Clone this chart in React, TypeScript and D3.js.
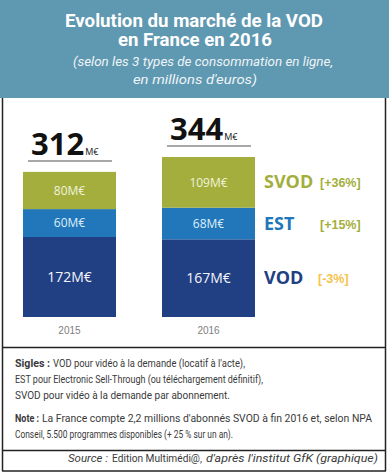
import React from "react";
import * as d3 from "d3";

const years = ["2015", "2016"];
const vod = [172, 167];
const est = [60, 68];
const svod = [80, 109];
const totals = [312, 344];
const seriesNames = ["VOD", "EST", "SVOD"];
const seriesChanges = ["[-3%]", "[+15%]", "[+36%]"];

const W = 389;
const H = 475;

const COLORS: Record<string, string> = { VOD: "#213f83", EST: "#2177b9", SVOD: "#a3ae3c" };
const LABEL_COLORS: Record<string, string> = { VOD: "#f4f6fb", EST: "#dfeefa", SVOD: "#f1f3dc" };
const CHANGE_COLORS: Record<string, string> = { VOD: "#f5c24c", EST: "#a3ae3c", SVOD: "#a3ae3c" };
const LABEL_SIZE: Record<string, number> = { VOD: 14, EST: 12, SVOD: 12 };

export default function App() {
  const x = d3.scaleBand<string>().domain(years).range([23, 255]).paddingInner(0.331).paddingOuter(0);
  const y = d3.scaleLinear().domain([0, 344]).range([317, 157]);

  const rows = years.map((yr, i) => ({ year: yr, VOD: vod[i], EST: est[i], SVOD: svod[i] }));
  const stacked = d3.stack<any>().keys(seriesNames)(rows);

  const sans = "'Open Sans', 'DejaVu Sans', sans-serif";
  const cond = "Roboto, 'Liberation Sans', sans-serif";
  const noteColor = "#3a3a3a";

  const lastIdx = years.length - 1;

  return (
    <svg width={W} height={H} style={{ position: "absolute", left: 0, top: 0, background: "#fff" }}>
      {/* header */}
      <rect x={0} y={0} width={W} height={98} fill="#5f98b1" />
      <text x={194} y={27} textAnchor="middle" fill="#fff" fontFamily={cond} fontWeight={700} fontSize={18}
        textLength={258} lengthAdjust="spacingAndGlyphs">Evolution du marché de la VOD</text>
      <text x={195} y={46} textAnchor="middle" fill="#fff" fontFamily={cond} fontWeight={700} fontSize={18}
        textLength={154} lengthAdjust="spacingAndGlyphs">en France en 2016</text>
      <text x={203} y={66} textAnchor="middle" fill="#eef4f7" fontFamily={cond} fontStyle="italic" fontSize={13}
        textLength={260} lengthAdjust="spacingAndGlyphs">(selon les 3 types de consommation en ligne,</text>
      <text x={195} y={84} textAnchor="middle" fill="#eef4f7" fontFamily={cond} fontStyle="italic" fontSize={13}
        textLength={124} lengthAdjust="spacingAndGlyphs">en millions d'euros)</text>

      {/* frame */}
      <g stroke="#222" strokeWidth={1.5} fill="none">
        <line x1={2.5} y1={98} x2={2.5} y2={471} />
        <line x1={385.5} y1={98} x2={385.5} y2={471} />
        <line x1={2.5} y1={347.5} x2={385.5} y2={347.5} />
        <line x1={2.5} y1={450.5} x2={385.5} y2={450.5} />
        <line x1={2} y1={471} x2={386} y2={471} />
      </g>

      {/* bars */}
      {stacked.map((s) => (
        <g key={s.key}>
          {s.map((d, i) => {
            const bx = x(years[i])!;
            const bw = x.bandwidth();
            const y0 = y(d[1]);
            const y1 = y(d[0]);
            const val = d[1] - d[0];
            return (
              <g key={i}>
                <rect x={bx} y={y0} width={bw} height={y1 - y0} fill={COLORS[s.key]} />
                <text x={bx + bw / 2} y={(y0 + y1) / 2} dy="0.36em" textAnchor="middle"
                  fill={LABEL_COLORS[s.key]} fontFamily={sans} fontSize={LABEL_SIZE[s.key]}>
                  {`${val}M€`}
                </text>
              </g>
            );
          })}
        </g>
      ))}

      {/* totals */}
      {years.map((yr, i) => {
        const cx = x(yr)! + x.bandwidth() / 2 + 0.5;
        const top = y(totals[i]);
        return (
          <g key={yr}>
            <line x1={cx - 42} x2={cx + 42} y1={top - 11} y2={top - 11} stroke="#a8a8a8" strokeWidth={2} />
            <text x={cx - 39} y={top - 17} fontFamily={sans} fontWeight={700} fontSize={31} fill="#111">
              {totals[i]}
              <tspan fontSize={9} fontWeight={400} dx={1}>M€</tspan>
            </text>
            <text x={cx - 0.5} y={334} textAnchor="middle" fontFamily="'Liberation Sans', Arial, sans-serif"
              fontSize={10} fill="#808080">{yr}</text>
          </g>
        );
      })}

      {/* legend */}
      {stacked.map((s, k) => {
        const d = s[lastIdx];
        const cy = (y(d[0]) + y(d[1])) / 2;
        return (
          <g key={s.key}>
            <text x={264} y={cy + 6} fontFamily={sans} fontWeight={700} fontSize={18} fill={COLORS[s.key]}>
              {s.key}
            </text>
            <text x={s.key === "VOD" ? 318 : 320} y={cy + 5} fontFamily="'Liberation Sans', Arial, sans-serif"
              fontWeight={700} fontSize={12.5} fill={CHANGE_COLORS[s.key]}>
              {seriesChanges[k]}
            </text>
          </g>
        );
      })}

      {/* notes */}
      <g fontFamily={cond} fontSize={10.8} fill={noteColor}>
        <text x={15} y={367} fontWeight={700} textLength={35} lengthAdjust="spacingAndGlyphs">Sigles :</text>
        <text x={53} y={367} textLength={192} lengthAdjust="spacingAndGlyphs">
          VOD pour vidéo à la demande (locatif à l'acte),
        </text>
        <text x={15} y={383} textLength={248} lengthAdjust="spacingAndGlyphs">
          EST pour Electronic Sell-Through (ou téléchargement définitif),
        </text>
        <text x={15} y={399} textLength={215} lengthAdjust="spacingAndGlyphs">
          SVOD pour vidéo à la demande par abonnement.
        </text>
        <text x={15} y={422} fontWeight={700} textLength={24} lengthAdjust="spacingAndGlyphs">Note :</text>
        <text x={42} y={422} textLength={330} lengthAdjust="spacingAndGlyphs">
          La France compte 2,2 millions d'abonnés SVOD à fin 2016 et, selon NPA
        </text>
        <text x={15} y={438} textLength={218} lengthAdjust="spacingAndGlyphs">
          Conseil, 5.500 programmes disponibles (+ 25 % sur un an).
        </text>
        <text x={68} y={462} fontSize={11.5} fontStyle="italic" textLength={40} lengthAdjust="spacingAndGlyphs">Source :</text>
        <text x={112} y={462} fontSize={11.5} textLength={90} lengthAdjust="spacingAndGlyphs">Edition Multimédi@,</text>
        <text x={206} y={462} fontSize={11.5} fontStyle="italic" textLength={172} lengthAdjust="spacingAndGlyphs">d'après l'institut GfK (graphique)</text>
      </g>
    </svg>
  );
}
